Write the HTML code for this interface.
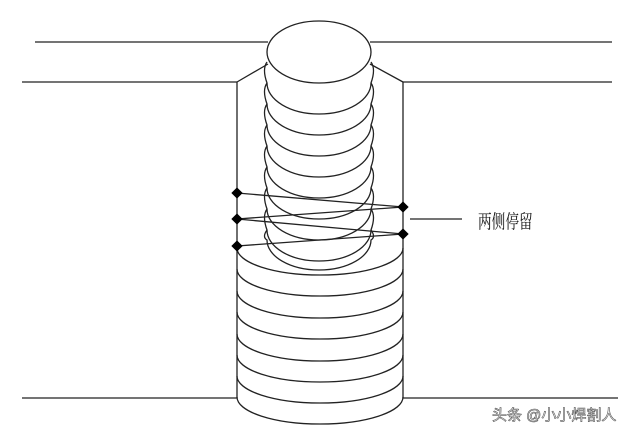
<!DOCTYPE html>
<html><head><meta charset="utf-8"><style>
html,body{margin:0;padding:0;background:#fff;width:640px;height:434px;overflow:hidden}
svg{display:block}
</style></head><body>
<svg width="640" height="434" viewBox="0 0 640 434" xmlns="http://www.w3.org/2000/svg">
<g fill="none" stroke="#222" stroke-width="1.3">
<line x1="35" y1="42" x2="268" y2="42"/>
<line x1="370" y1="42" x2="612" y2="42"/>
<line x1="22" y1="82" x2="237" y2="82"/>
<line x1="403" y1="82" x2="612" y2="82"/>
<line x1="237" y1="82" x2="268" y2="64"/>
<line x1="403" y1="82" x2="370" y2="64"/>
<line x1="237" y1="82" x2="237" y2="398"/>
<line x1="403" y1="82" x2="403" y2="398"/>
<line x1="22" y1="398" x2="237" y2="398"/>
<line x1="403" y1="398" x2="618" y2="398"/>
<ellipse cx="319" cy="52" rx="52" ry="31" fill="#fff"/>
<path d="M267,62 Q262,69 267,83 A52,31 0 0 0 371,83 Q376,69 371,62"/>
<path d="M267,83 Q262,90 267,104 A52,31 0 0 0 371,104 Q376,90 371,83"/>
<path d="M267,104 Q262,111 267,125 A52,31 0 0 0 371,125 Q376,111 371,104"/>
<path d="M267,125 Q262,132 267,146 A52,31 0 0 0 371,146 Q376,132 371,125"/>
<path d="M267,146 Q262,153 267,167 A52,31 0 0 0 371,167 Q376,153 371,146"/>
<path d="M267,167 Q262,174 267,188 A52,31 0 0 0 371,188 Q376,174 371,167"/>
<path d="M267,188 Q262,195 267,209 A52,31 0 0 0 371,209 Q376,195 371,188"/>
<path d="M267,209 Q262,216 267,230 A52,31 0 0 0 371,230 Q376,216 371,209"/>
<path d="M267,230 Q262,237 267,240 A52,30 0 0 0 371,240 Q376,237 371,230"/>
<path d="M237,248 A83,27 0 0 0 403,248"/>
<path d="M237,269 A83,27 0 0 0 403,269"/>
<path d="M237,291 A83,27 0 0 0 403,291"/>
<path d="M237,312 A83,27 0 0 0 403,312"/>
<path d="M237,334 A83,27 0 0 0 403,334"/>
<path d="M237,355 A83,27 0 0 0 403,355"/>
<path d="M237,376 A83,27 0 0 0 403,376"/>
<path d="M237,397 A83,27 0 0 0 403,397"/>
<polyline points="237,193 403,207 237,219 403,234 237,246"/>
<line x1="410" y1="219" x2="462" y2="219"/>
</g>
<g fill="#000">
<rect x="233" y="189" width="8" height="8" transform="rotate(45 237 193)"/>
<rect x="233" y="215" width="8" height="8" transform="rotate(45 237 219)"/>
<rect x="233" y="242" width="8" height="8" transform="rotate(45 237 246)"/>
<rect x="399" y="203" width="8" height="8" transform="rotate(45 403 207)"/>
<rect x="399" y="230" width="8" height="8" transform="rotate(45 403 234)"/>
</g>
<text transform="translate(478,228) scale(0.72,1)" font-family="'Liberation Serif','Noto Serif CJK SC',serif" font-size="19" fill="#111">两侧停留</text>
<text x="492" y="420" font-family="'Liberation Sans','Noto Sans CJK SC',sans-serif" font-size="15" fill="#fff" stroke="#555" stroke-width="0.6">头条 @小小焊割人</text>
</svg>
</body></html>
